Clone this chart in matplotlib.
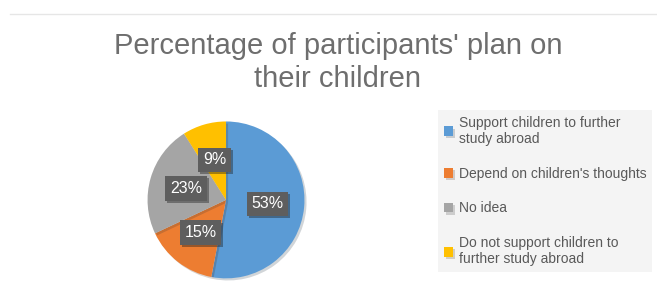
import matplotlib.pyplot as plt
import matplotlib.patheffects as pe
from matplotlib.lines import Line2D

labels = ['Support children to further\nstudy abroad',
          "Depend on children's thoughts",
          'No idea',
          'Do not support children to\nfurther study abroad']
shares = [53, 15, 23, 9]
colors = ['#5B9BD5', '#ED7D31', '#A5A5A5', '#FFC000']
title = "Percentage of participants' plan on\ntheir children"

plt.rcParams['font.family'] = ['Liberation Sans', 'DejaVu Sans']

fig = plt.figure(figsize=(6.57, 2.91), dpi=100)
fig.add_artist(Line2D([10/657, 1], [1 - 14/291, 1 - 14/291], color='#e6e6e6', lw=1))

fig.text(338/657, 1 - 32/291, title, ha='center', va='top', fontsize=21,
         color='#6e6e6e', linespacing=1.22)

ax = fig.add_axes([0.222, 0.038, 0.244, 0.55])
wedges, texts, autotexts = ax.pie(shares, colors=colors, startangle=90, counterclock=False,
                                  autopct='%.0f%%', pctdistance=0.53, radius=1,
                                  wedgeprops=dict(edgecolor='none'))
for w in wedges:
    w.set_path_effects([pe.SimplePatchShadow(offset=(1.5, -1.5), alpha=0.2), pe.Normal()])
for t in autotexts:
    t.set_color('white')
    t.set_fontsize(11.5)
    t.set_bbox(dict(boxstyle='square,pad=0.3', facecolor='#5e5e5e', edgecolor='none'))
    t.get_bbox_patch().set_path_effects([pe.SimplePatchShadow(offset=(1.5, -1.5), alpha=0.4), pe.Normal()])
ax.set_xlim(-1.02, 1.02)
ax.set_ylim(-1.02, 1.02)
ax.set_aspect('equal')

leg = fig.legend(wedges, labels, loc='upper left', bbox_to_anchor=(438/657, 1 - 110/291),
                 frameon=True, fontsize=10, labelcolor='#595959', handlelength=0.7,
                 handleheight=0.7, handletextpad=0.4, labelspacing=1.5, borderpad=0.4,
                 borderaxespad=0, fancybox=False)
frame = leg.get_frame()
frame.set_facecolor('#f2f2f2')
frame.set_edgecolor('none')

fig.savefig('out.png', dpi=100)
